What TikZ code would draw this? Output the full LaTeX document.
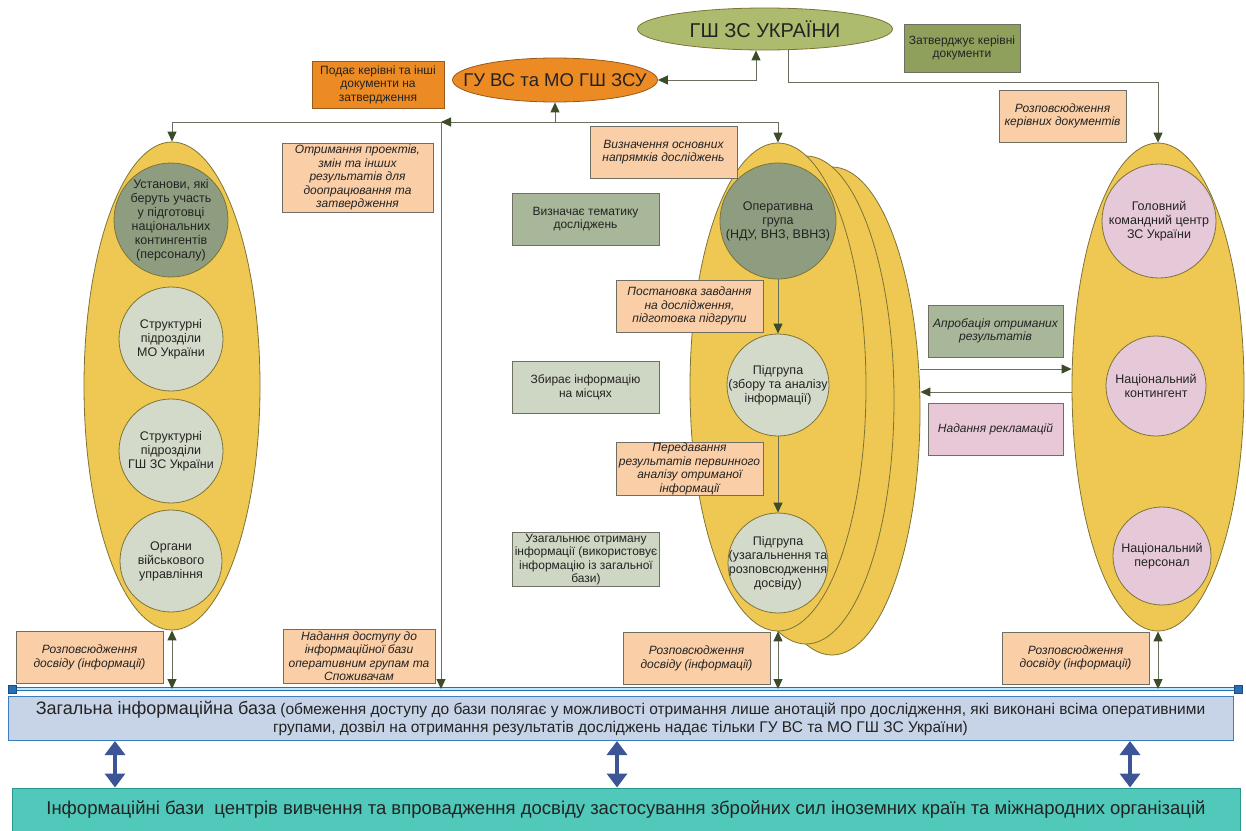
\documentclass[tikz,border=0pt]{standalone}
\usepackage{fontspec}
\setmainfont{Liberation Sans}
\usepackage{xcolor}
\usepackage{tikz}
\usetikzlibrary{arrows.meta,calc,shapes,shapes.geometric,positioning}
\definecolor{yellowov}{RGB}{238,200,82}
\definecolor{ovedge}{RGB}{125,115,55}
\definecolor{olivegsh}{RGB}{172,187,110}
\definecolor{olivebox}{RGB}{143,160,92}
\definecolor{orangegu}{RGB}{236,138,36}
\definecolor{orangeedge}{RGB}{150,90,30}
\definecolor{peach}{RGB}{250,206,166}
\definecolor{greydark}{RGB}{142,157,128}
\definecolor{greylight}{RGB}{211,218,201}
\definecolor{greybox}{RGB}{168,183,153}
\definecolor{greyboxl}{RGB}{206,215,196}
\definecolor{pinkc}{RGB}{230,201,216}
\definecolor{pinkbox}{RGB}{232,200,215}
\definecolor{boxedge}{RGB}{110,110,100}
\definecolor{linegrey}{RGB}{105,110,95}
\definecolor{headdark}{RGB}{60,75,40}
\definecolor{baseblue}{RGB}{199,212,232}
\definecolor{baseedge}{RGB}{60,125,190}
\definecolor{bluel}{RGB}{40,110,180}
\definecolor{tealf}{RGB}{80,200,186}
\definecolor{tealedge}{RGB}{40,150,140}
\definecolor{arrblue}{RGB}{60,85,150}
\definecolor{txt}{RGB}{35,35,35}
\newcommand{\boxfont}{\fontsize{12}{13.5}\selectfont}
\newcommand{\circfont}{\fontsize{12.5}{14}\selectfont}

\begin{document}
\begin{tikzpicture}[x=1pt,y=-1pt,
   >={Triangle[length=10pt,width=9pt,color=headdark]},
   lin/.style={draw=linegrey,line width=1pt},
   ovl/.style={ellipse,draw=ovedge,fill=yellowov,line width=0.8pt,minimum width=176pt,minimum height=488pt},
   kolo/.style={circle,draw=ovedge,line width=0.8pt,align=center,inner sep=-6pt,font=\circfont,text=txt},
   tbox/.style={rectangle,draw=boxedge,line width=0.9pt,align=center,inner sep=1pt,font=\boxfont,text=txt,minimum width=147pt,minimum height=52pt},
   kursiv/.style={tbox,fill=peach,font=\boxfont\itshape},
   bigarr/.style={draw=arrblue,line width=4.5pt,{Triangle[length=14pt,width=20pt]}-{Triangle[length=14pt,width=20pt]}},
   handle/.style={rectangle,fill=bluel,draw=bluel!70!black,minimum size=8pt,inner sep=0pt}
  ]
  \useasboundingbox (0,0) rectangle (1246,830);

  	% yellow containers
  \node[ovl] (leftov) at (172,386) {};
  \node[ovl] (midov3) at (832,411) {};
  \node[ovl] (midov2) at (806,400) {};
  \node[ovl] (midov) at (778,387) {};
  \node[ovl,minimum width=172pt] (rightov) at (1158,387) {};

  \node[kolo,fill=greydark,minimum size=114pt] (ustan) at (171,220) {Установи, які\\беруть участь\\у підготовці\\національних\\контингентів\\(персоналу)};
  \node[kolo,fill=greylight,minimum size=104pt] (mou) at (171,339) {Структурні\\підрозділи\\МО України};
  \node[kolo,fill=greylight,minimum size=104pt] (gshu) at (171,451) {Структурні\\підрозділи\\ГШ ЗС України};
  \node[kolo,fill=greylight,minimum size=102pt] (organy) at (171,561) {Органи\\військового\\управління};

  \node[kolo,fill=greydark,minimum size=116pt] (opgr) at (778,221) {Оперативна\\група\\(НДУ, ВНЗ, ВВНЗ)};
  \node[kolo,fill=greylight,minimum size=102pt] (zbirgr) at (778,385) {Підгрупа\\(збору та аналізу\\інформації)};
  \node[kolo,fill=greylight,minimum size=100pt] (uzaggr) at (778,563) {Підгрупа\\(узагальнення та\\розповсюдження\\досвіду)};

  \node[kolo,fill=pinkc,minimum size=114pt] (gkc) at (1159,221) {Головний\\командний центр\\ЗС України};
  \node[kolo,fill=pinkc,minimum size=100pt] (natk) at (1156,386) {Національний\\контингент};
  \node[kolo,fill=pinkc,minimum size=98pt] (natp) at (1162,556) {Національний\\персонал};

  	% top
  \node[ellipse,draw=ovedge,fill=olivegsh,line width=0.8pt,minimum width=255pt,minimum height=42pt] (gsh) at (765,29) {};
  \node[font=\fontsize{20}{24}\selectfont,text=txt] (gshtxt) at (gsh) {ГШ ЗС УКРАЇНИ};
  \node[ellipse,draw=orangeedge,fill=orangegu,line width=0.8pt,minimum width=205pt,minimum height=44pt] (guvs) at (555,80) {};
  \node[font=\fontsize{18.5}{22}\selectfont,text=txt] (guvstxt) at (guvs) {ГУ ВС та МО ГШ ЗСУ};

  \node[tbox,fill=orangegu,draw=orangeedge,font=\fontsize{12}{13.5}\selectfont,minimum width=132pt,minimum height=47pt] (podae) at (378,84.5) {Подає керівні та інші\\документи на\\затвердження};
  \node[tbox,fill=olivebox,font=\fontsize{12}{13.5}\selectfont,minimum width=116pt,minimum height=48pt] (zatv) at (962,48) {Затверджує керівні\\документи};

  \node[kursiv,minimum width=151pt,minimum height=69pt] (otrym) at (357.5,177.5) {Отримання проектів,\\змін та інших\\результатів для\\доопрацювання та\\затвердження};
  \node[kursiv] (napr) at (663.5,152) {Визначення основних\\напрямків досліджень};
  \node[tbox,fill=greybox] (tema) at (585.5,219) {Визначає тематику\\досліджень};
  \node[kursiv] (postan) at (689.5,306) {Постановка завдання\\на дослідження,\\підготовка підгрупи};
  \node[tbox,fill=greyboxl] (zbyr) at (585.5,387.5) {Збирає інформацію\\на місцях};
  \node[kursiv] (pered) at (689.5,469) {Передавання\\результатів первинного\\аналізу отриманої\\інформації};
  \node[tbox,fill=greyboxl] (uzag) at (586,559.5) {Узагальнює отриману\\інформації (використовує\\інформацію із загальної\\бази)};
  \node[kursiv,minimum width=127pt] (rozpker) at (1062.5,116) {Розповсюдження\\керівних документів};
  \node[tbox,fill=greybox,font=\boxfont\itshape,minimum width=135pt] (aprob) at (995.5,331) {Апробація отриманих\\результатів};
  \node[tbox,fill=pinkbox,font=\boxfont\itshape,minimum width=135pt] (reklam) at (995.5,429) {Надання рекламацій};

  \node[kursiv] (rozp1) at (89.5,657.5) {Розповсюдження\\досвіду (інформації)};
  \node[kursiv,minimum width=152pt,minimum height=54pt] (dostup) at (359,656) {Надання доступу до\\інформаційної бази\\оперативним групам та\\Споживачам};
  \node[kursiv] (rozp2) at (696.5,658.5) {Розповсюдження\\досвіду (інформації)};
  \node[kursiv] (rozp3) at (1075.5,658) {Розповсюдження\\досвіду (інформації)};

  	% bases
  \coordinate (bl) at (12,689);
  \coordinate (br) at (1238,689);
  \draw[draw=bluel,line width=1.6pt,double=cyan!25,double distance=1.6pt] (bl) -- (br);
  \node[handle] (hl) at (bl) {};
  \node[handle] (hr) at (br) {};

  \node[rectangle,draw=baseedge,fill=baseblue,line width=1pt,minimum width=1225pt,minimum height=44pt,align=center,inner sep=1pt,text=txt,font=\fontsize{15.5}{18.5}\selectfont] (base) at (620.5,718.5)
     {{\fontsize{18}{18.5}\selectfont Загальна інформаційна база} (обмеження доступу до бази полягає у можливості отримання лише анотацій про дослідження, які виконані всіма оперативними\\групами, дозвіл на отримання результатів досліджень надає тільки ГУ ВС та МО ГШ ЗС України)};
  \node[rectangle,draw=tealedge,fill=tealf,line width=1pt,minimum width=1228pt,minimum height=44pt,text=txt,font=\fontsize{18.5}{21}\selectfont] (foreign) at (626,810)
     {Інформаційні бази\ \ центрів вивчення та впровадження досвіду застосування збройних сил іноземних країн та міжнародних організацій};

  \draw[bigarr] ([xshift=-505.5pt]base.south) -- ([xshift=-505.5pt]base.south |- foreign.north);
  \draw[bigarr] ([xshift=-3.5pt]base.south) -- ([xshift=-3.5pt]base.south |- foreign.north);
  \draw[bigarr] ([xshift=509.5pt]base.south) -- ([xshift=509.5pt]base.south |- foreign.north);

  	% connectors
  \coordinate (hub) at (555,122);
  \coordinate (split) at (441,122);
  \draw[lin,->] (hub) -- (guvs.south);
  \draw[lin,->] (hub) -| (leftov.north);
  \draw[lin,->] (hub) -| (midov.north);
  \draw[lin,->] (hub) -- (split);
  \draw[lin,->] (split) -- (split |- bl);

  \draw[lin,<->] (guvs.east) -| ([xshift=-9pt]gsh.south);
  \draw[lin,->] ([xshift=23pt]gsh.south) -- ++(0,32) -| (rightov.north);

  \draw[lin,->] (opgr) -- (zbirgr);
  \draw[lin,->] (zbirgr) -- (uzaggr);

  \coordinate (apr) at ([yshift=18pt]rightov.west);
  \coordinate (rek) at ([yshift=-5pt]rightov.west);
  \draw[lin,->] (apr -| midov3.east) -- (apr);
  \draw[lin,<-] (rek -| midov3.east) -- (rek);

  \draw[lin,<->] (leftov.south) -- (leftov.south |- bl);
  \draw[lin,<->] (midov.south) -- (midov.south |- bl);
  \draw[lin,<->] (rightov.south) -- (rightov.south |- bl);

\end{tikzpicture}
\end{document}
